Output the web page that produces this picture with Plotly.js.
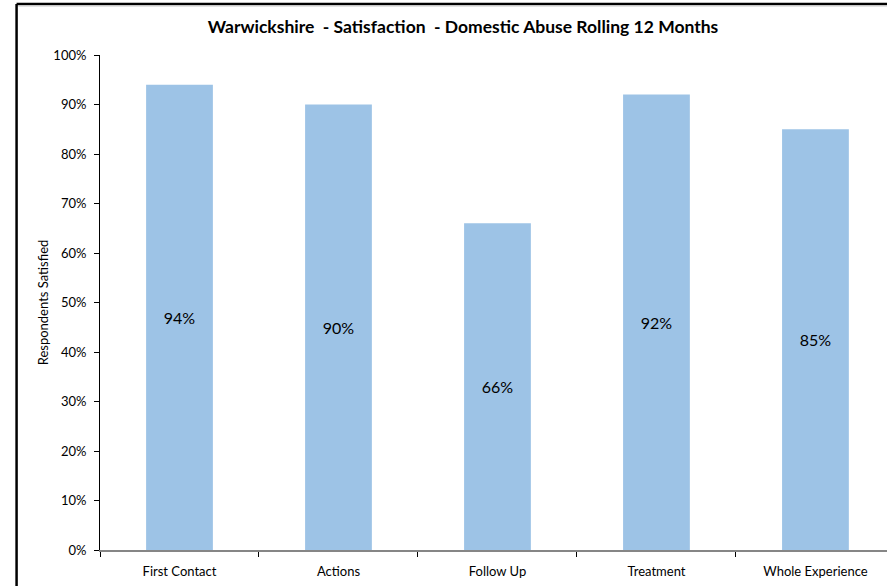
<!DOCTYPE html>
<html>
<head>
<meta charset="utf-8">
<script src="https://cdn.plot.ly/plotly-3.0.1.min.js"></script>
<style>
  html, body { margin: 0; padding: 0; background: #fff; }
  #chart { width: 887px; height: 586px; }
</style>
</head>
<body>
<div id="chart"></div>
<script>
const categories = ["First Contact", "Actions", "Follow Up", "Treatment", "Whole Experience"];
const satisfied = [0.94, 0.90, 0.66, 0.92, 0.85];
const labels = ["94%", "90%", "66%", "92%", "85%"];
const yTickVals = [0, 0.1, 0.2, 0.3, 0.4, 0.5, 0.6, 0.7, 0.8, 0.9, 1.0];
const yTickText = ["0%", "10%", "20%", "30%", "40%", "50%", "60%", "70%", "80%", "90%", "100%"];

const FONT = "Lato, 'Open Sans', 'Liberation Sans', sans-serif";

const trace = {
  type: "bar",
  x: categories,
  y: satisfied,
  text: labels,
  textposition: "inside",
  insidetextanchor: "middle",
  textangle: 0,
  textfont: { family: FONT, size: 16, color: "#000" },
  marker: { color: "#9DC3E6", line: { width: 0 } },
  hoverinfo: "skip"
};

const layout = {
  width: 887,
  height: 586,
  margin: { l: 100, r: 0, t: 55, b: 36, pad: 0 },
  paper_bgcolor: "#fff",
  plot_bgcolor: "#fff",
  showlegend: false,
  bargap: 0.58,
  font: { family: FONT, size: 13, color: "#000" },
  title: {
    text: "<b>Warwickshire  - Satisfaction  - Domestic Abuse Rolling 12 Months</b>",
    font: { family: FONT, size: 17.5, color: "#000" },
    xref: "container", x: 0.522, xanchor: "center",
    yref: "container", y: 0.954, yanchor: "middle"
  },
  xaxis: {
    type: "category",
    range: [-0.5, 4.45],
    showline: true,
    linecolor: "#868686",
    linewidth: 2,
    ticks: "outside",
    tickson: "boundaries",
    ticklen: 5,
    tickcolor: "#000",
    tickwidth: 1,
    ticklabelstandoff: 8,
    showgrid: false,
    zeroline: false,
    tickfont: { family: FONT, size: 13, color: "#000" },
    fixedrange: true
  },
  yaxis: {
    range: [0, 1],
    tickvals: yTickVals,
    ticktext: yTickText,
    showline: true,
    linecolor: "#000",
    linewidth: 1,
    ticks: "outside",
    ticklen: 5,
    tickcolor: "#000",
    ticklabelstandoff: 5,
    showgrid: false,
    zeroline: false,
    tickfont: { family: FONT, size: 13, color: "#000" },
    title: {
      text: "Respondents Satisfied",
      font: { family: FONT, size: 13, color: "#000" },
      standoff: 1
    },
    fixedrange: true
  },
  shapes: [
    { type: "line", xref: "paper", yref: "paper", x0: -0.106, x1: -0.106, y0: 1.103, y1: -0.2,
      line: { color: "#000", width: 2.5 } },
    { type: "line", xref: "paper", yref: "paper", x0: -0.106, x1: 1.2, y0: 1.103, y1: 1.103,
      line: { color: "#000", width: 2.5 } },
    { type: "line", xref: "paper", yref: "paper", x0: -0.104, x1: 1.2, y0: 1.0985, y1: 1.0985,
      line: { color: "#d9d9d9", width: 1 } }
  ]
};

Plotly.newPlot("chart", [trace], layout, { displayModeBar: false, staticPlot: true });
</script>
</body>
</html>
